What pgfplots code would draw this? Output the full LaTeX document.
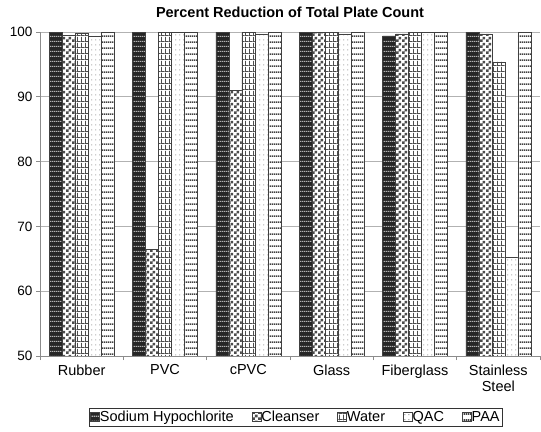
\documentclass[border=0pt]{standalone}
\usepackage{pgfplots}
\pgfplotsset{compat=1.18}
\usetikzlibrary{patterns}
\usepackage{fontspec}
\setmainfont{Liberation Sans}

\pgfdeclarepatternformonly{shlines}{\pgfqpoint{0bp}{0bp}}{\pgfqpoint{2bp}{5bp}}{\pgfqpoint{2bp}{5bp}}{%
  \pgfpathrectangle{\pgfqpoint{0bp}{0bp}}{\pgfqpoint{2bp}{1.4bp}}\pgfusepath{fill}}
\pgfdeclarepatternformonly{mycheck}{\pgfqpoint{0bp}{0bp}}{\pgfqpoint{6bp}{6bp}}{\pgfqpoint{6bp}{6bp}}{%
  \pgfpathrectangle{\pgfqpoint{0bp}{0bp}}{\pgfqpoint{3bp}{3bp}}%
  \pgfpathrectangle{\pgfqpoint{3bp}{3bp}}{\pgfqpoint{3bp}{3bp}}\pgfusepath{fill}}
\pgfdeclarepatternformonly{mygrid}{\pgfqpoint{0bp}{0bp}}{\pgfqpoint{4.3bp}{6bp}}{\pgfqpoint{4.3bp}{6bp}}{%
  \pgfpathrectangle{\pgfqpoint{0bp}{0bp}}{\pgfqpoint{1.1bp}{6bp}}%
  \pgfpathrectangle{\pgfqpoint{0bp}{0bp}}{\pgfqpoint{4.3bp}{1bp}}\pgfusepath{fill}}
\pgfdeclarepatternformonly{mydots}{\pgfqpoint{0bp}{0bp}}{\pgfqpoint{4.3bp}{5bp}}{\pgfqpoint{4.3bp}{5bp}}{%
  \pgfpathrectangle{\pgfqpoint{1.5bp}{2bp}}{\pgfqpoint{1.1bp}{1.1bp}}\pgfusepath{fill}}
\pgfdeclarepatternformonly{paalines}{\pgfqpoint{0bp}{0bp}}{\pgfqpoint{2bp}{5.5bp}}{\pgfqpoint{2bp}{5.5bp}}{%
  \pgfpathrectangle{\pgfqpoint{0bp}{0bp}}{\pgfqpoint{2bp}{1.9bp}}\pgfusepath{fill}}

\pgfplotstableread{
x  sh     cl    wa    qac   paa
0  100    99.5  99.8  99.4  100
1  100    66.5  99.9  100   100
2  100    91.0  100   99.7  100
3  100    100   100   99.6  100
4  99.4   99.7  99.9  100   100
5  100    99.7  95.4  65.2  100
}\datatable

\begin{document}
\begin{tikzpicture}[font=\fontsize{14.5bp}{16bp}\selectfont]
\path[use as bounding box] (0,0) rectangle (541bp,432bp);
\begin{axis}[
  at={(40bp,76bp)}, anchor=south west,
  scale only axis, width=500bp, height=324bp,
  ybar=0pt, bar width=13bp,
  xmin=-0.5, xmax=5.5, ymin=50, ymax=100,
  xtick={0,...,5},
  xticklabels={Rubber,PVC,cPVC,Glass,Fiberglass,{Stainless\\Steel}},
  minor xtick={-0.5,0.5,...,5.5},
  major x tick style={draw=none},
  minor tick length=4bp, major tick length=4bp,
  ytick={50,60,...,100},
  tick align=outside,
  axis x line*=bottom, axis y line*=left,
  axis line style={black!45, line width=0.9bp},
  every tick/.style={black!45, line width=0.9bp},
  ymajorgrids, grid style={black!30, line width=0.9bp},
  /pgf/number format/assume math mode=true,
  yticklabel style={font=\fontsize{13.5bp}{15bp}\selectfont, text=black},
  xticklabel style={font=\fontsize{14.5bp}{16bp}\selectfont, text=black, align=center, yshift=-1bp},
  title={\bfseries Percent Reduction of Total Plate Count},
  title style={font=\fontsize{14.5bp}{16bp}\selectfont, at={(0.5,1)}, anchor=south, yshift=5bp},
  legend columns=5,
  legend style={at={(0.512,-0.188)}, anchor=center, draw=black!80, line width=0.8bp,
    font=\fontsize{14.5bp}{16bp}\selectfont, inner sep=1bp,
    /tikz/every odd column/.append style={column sep=-2bp},
    /tikz/every even column/.append style={column sep=16bp}},
  legend image code/.code={\draw[#1] (0bp,-4.5bp) rectangle (9bp,4.5bp);},
  every axis plot/.append style={draw=black!75, line width=0.6bp},
]
\addplot[fill=black!85, postaction={pattern=shlines, pattern color=black!30}] table[x=x,y=sh]{\datatable};
\addplot[fill=white, postaction={pattern=mycheck, pattern color=black!70}] table[x=x,y=cl]{\datatable};
\addplot[fill=white, postaction={pattern=mygrid, pattern color=black!70}] table[x=x,y=wa]{\datatable};
\addplot[fill=white, postaction={pattern=mydots, pattern color=black!45}] table[x=x,y=qac]{\datatable};
\addplot[fill=white, postaction={pattern=paalines, pattern color=black!75}] table[x=x,y=paa]{\datatable};
\legend{Sodium Hypochlorite,Cleanser,Water,QAC,PAA}
\end{axis}
\end{tikzpicture}
\end{document}
